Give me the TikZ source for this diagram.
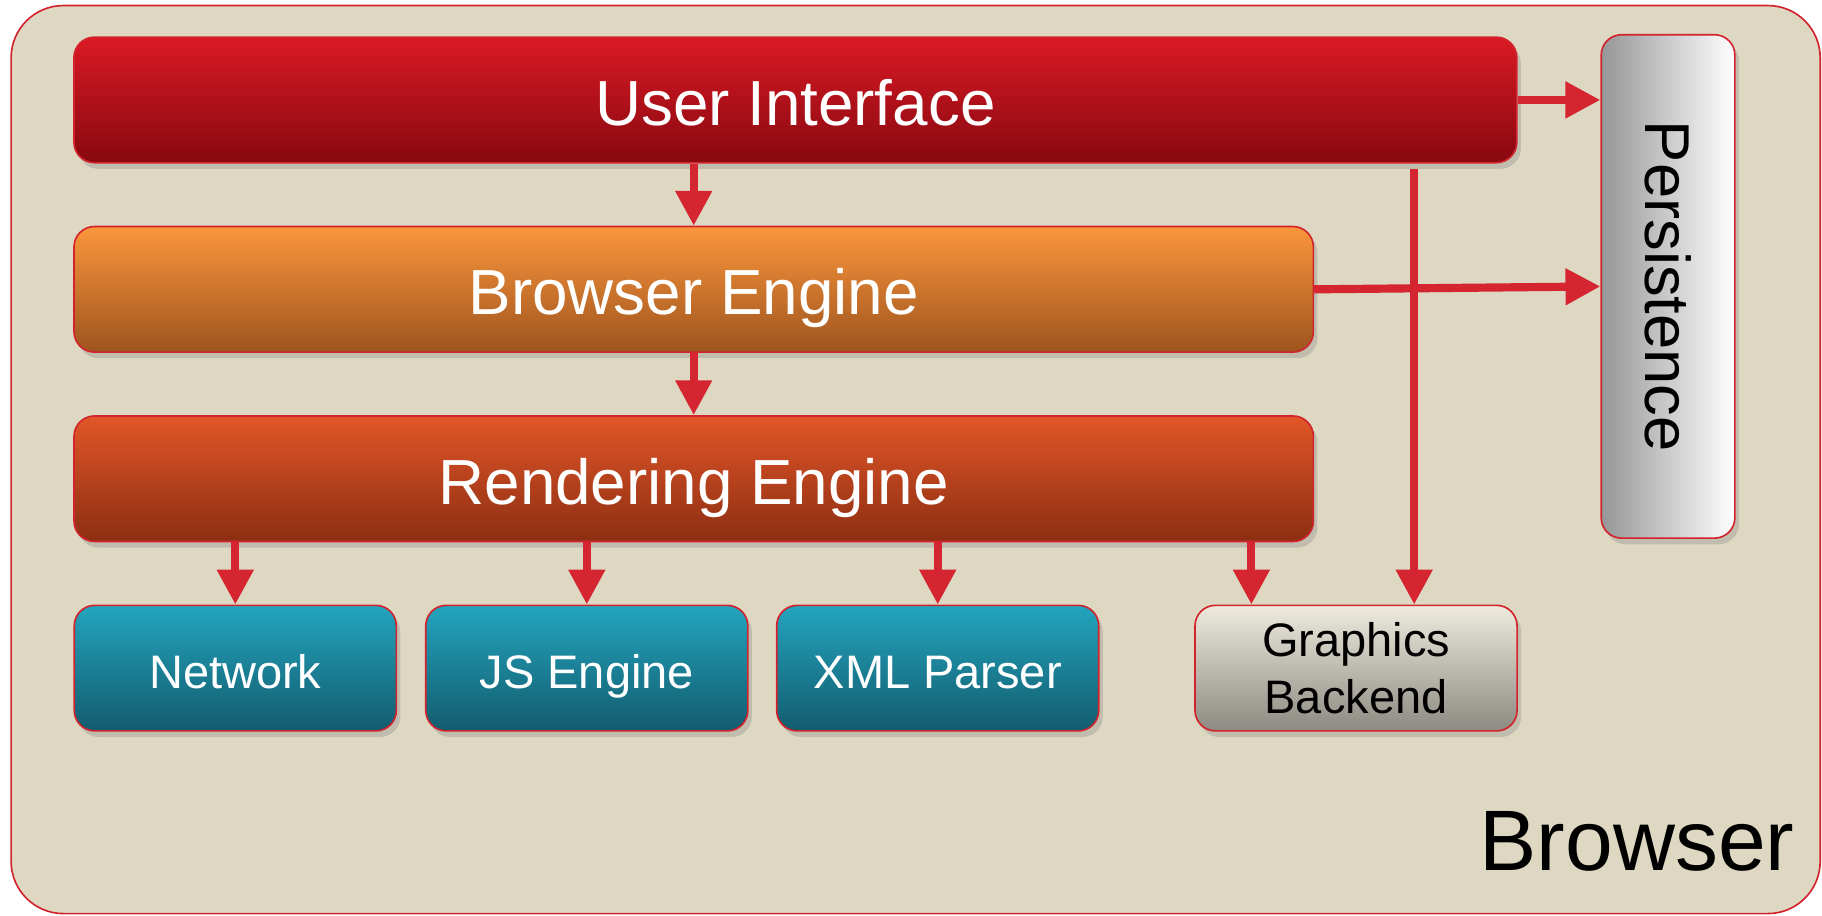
\documentclass[tikz,border=0pt]{standalone}
\usepackage{fontspec}
\setmainfont{Liberation Sans}
\usetikzlibrary{arrows.meta,shadows}

\definecolor{bgbeige}{RGB}{222,216,194}
\definecolor{edgered}{RGB}{210,35,45}
\definecolor{arrowred}{RGB}{212,37,48}

\begin{document}
\begin{tikzpicture}[x=0.01cm,y=-0.01cm,
   layer/.style={draw=edgered,rounded corners=5pt,inner sep=0pt,
      drop shadow={shadow xshift=1pt,shadow yshift=-1.5pt,opacity=0.3}},
   wide/.style={layer,minimum height=1.08cm,text=white,text height=15.6pt,text depth=3.1pt,
      font=\fontsize{15.6}{18}\selectfont},
   part/.style={layer,minimum width=2.77cm,minimum height=1.08cm,align=center,
      font=\fontsize{11.5}{13.9}\selectfont},
   teal/.style={part,text=white,text height=11.5pt,text depth=1.4pt,
      top color={rgb,255:red,36;green,164;blue,190},
      bottom color={rgb,255:red,18;green,92;blue,110}},
   flow/.style={draw=arrowred,line width=2pt,-{Triangle[length=0.3cm,width=0.3cm]}}]
\useasboundingbox (0,0) rectangle (1568,788);
% the browser frame
\node[draw=edgered,fill=bgbeige,rounded corners=0.45cm,minimum width=15.56cm,
   minimum height=7.81cm] (browser) at (788,395.5) {};
\node[anchor=base east,inner sep=0pt,font=\fontsize{21}{24}\selectfont] (browsertext) at (1545,749) {Browser};
% the layers
\node[wide,minimum width=12.41cm,top color={rgb,255:red,218;green,26;blue,36},
   bottom color={rgb,255:red,135;green,8;blue,16}] (ui) at (684.5,86) {User Interface};
\node[wide,minimum width=10.66cm,top color={rgb,255:red,251;green,150;blue,60},
   bottom color={rgb,255:red,158;green,84;blue,30}] (be) at (597,249) {Browser Engine};
\node[wide,minimum width=10.66cm,top color={rgb,255:red,226;green,86;blue,40},
   bottom color={rgb,255:red,140;green,46;blue,18}] (re) at (597,412) {Rendering Engine};
\node[teal] (net) at (202.5,575) {Network};
\node[teal] (js) at (505,575) {JS Engine};
\node[teal] (xml) at (807,575) {XML Parser};
\node[part,top color={rgb,255:red,238;green,234;blue,222},
   bottom color={rgb,255:red,140;green,138;blue,130}] (gfx) at (1167,575) {Graphics\\Backend};
\node[layer,minimum width=1.15cm,minimum height=4.33cm,
   left color={rgb,255:red,150;green,150;blue,150},right color=white] (pers) at (1435.5,246.5) {};
\node[rotate=-90,font=\fontsize{15.5}{18}\selectfont] (perstext) at (pers.center) {Persistence};
% connectors
\coordinate (gfxleft) at ([xshift=-0.9cm]gfx.north);
\coordinate (gfxright) at ([xshift=0.5cm]gfx.north);
\draw[flow] (be.north |- ui.south) -- (be.north);
\draw[flow] (be.south) -- (re.north);
\draw[flow] (net.north |- re.south) -- (net.north);
\draw[flow] (js.north |- re.south) -- (js.north);
\draw[flow] (xml.north |- re.south) -- (xml.north);
\draw[flow] (gfxleft |- re.south) -- (gfxleft);
\draw[flow] ([yshift=-0.05cm]gfxright |- ui.south) -- (gfxright);
\draw[flow] (ui.east) -- (ui.east -| pers.west);
\draw[flow] (be.east) -- (pers.west);
\end{tikzpicture}
\end{document}
